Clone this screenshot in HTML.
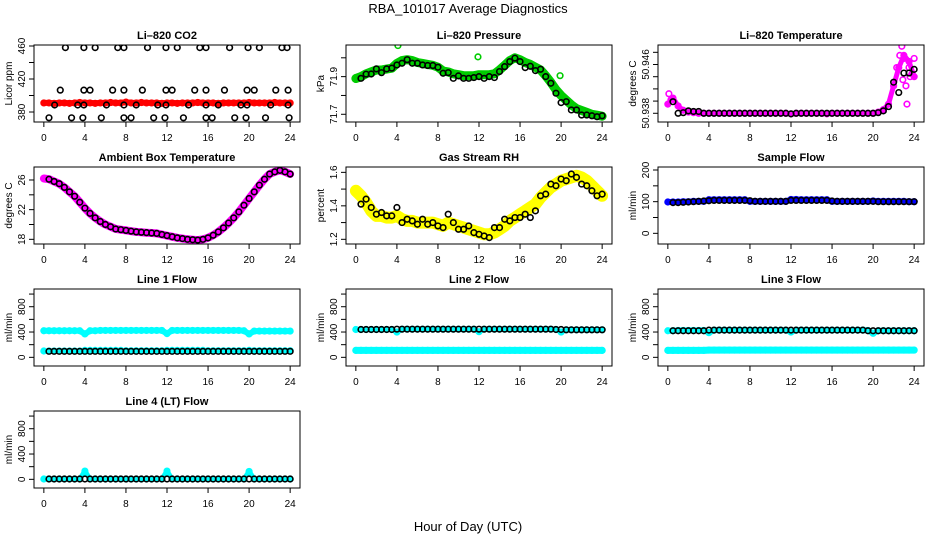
<!DOCTYPE html>
<html><head><meta charset="utf-8"><style>
html,body{margin:0;padding:0;background:#fff;}
svg{display:block;font-family:"Liberation Sans",sans-serif;}
</style></head><body>
<svg id="chart" width="936" height="540" viewBox="0 0 936 540" xmlns="http://www.w3.org/2000/svg">
<text x="468" y="13" text-anchor="middle" font-size="13">RBA_101017  Average Diagnostics</text>
<text x="468" y="531" text-anchor="middle" font-size="13">Hour of Day (UTC)</text>
</svg>
<script>
const hours=[0,0.5,1,1.5,2,2.5,3,3.5,4,4.5,5,5.5,6,6.5,7,7.5,8,8.5,9,9.5,10,10.5,11,11.5,12,12.5,13,13.5,14,14.5,15,15.5,16,16.5,17,17.5,18,18.5,19,19.5,20,20.5,21,21.5,22,22.5,23,23.5,24];
const xTicks=[0,4,8,12,16,20,24];

const co2Red=[391,391,390.5,391,391,390.5,391,391.5,391,391,390.5,391,391,391.5,391,391,392,391,391,391.5,391,391,391,390.5,391,391,390.5,391,391,391,391.5,391,391,391,390.5,391,391,391,391,391,391.5,391,391,391,391,391.5,391,391,391];
const co2BlackT=[2.1,3.9,5.0,7.2,7.8,10.1,11.9,13.0,15.2,15.8,18.1,19.9,21.0,23.2,23.7,1.6,3.9,4.5,6.7,7.8,9.6,11.9,12.5,14.7,15.8,17.6,19.8,20.5,22.6,23.8,1.05,3.3,3.9,6.1,7.8,9.0,11.1,11.9,14.1,15.8,17.0,19.2,19.8,22.1,23.8,0.5,2.7,3.8,5.6,7.8,8.5,10.7,11.8,13.6,15.8,16.4,18.6,19.7,21.6,23.9];
const co2BlackV=[458,458,458,458,458,458,458,458,458,458,458,458,458,458,458,406.5,406.5,406.5,406.5,406.5,406.5,406.5,406.5,406.5,406.5,406.5,406.5,406.5,406.5,406.5,388.5,388.5,388.5,388.5,388.5,388.5,388.5,388.5,388.5,388.5,388.5,388.5,388.5,388.5,388.5,373,373,373,373,373,373,373,373,373,373,373,373,373,373,373];

const presGreen=[71.89,71.90,71.915,71.925,71.935,71.935,71.94,71.945,71.97,71.985,71.99,71.985,71.975,71.97,71.965,71.96,71.95,71.93,71.925,71.915,71.91,71.905,71.905,71.905,71.91,71.91,71.91,71.915,71.935,71.96,71.985,72.0,71.99,71.975,71.965,71.95,71.935,71.905,71.87,71.83,71.80,71.775,71.75,71.73,71.72,71.71,71.70,71.695,71.69];
const presBlack=[null,71.891,71.913,71.914,71.941,71.921,71.941,71.945,71.962,71.971,71.990,71.971,71.971,71.962,71.959,71.959,71.950,71.918,71.921,71.891,71.904,71.891,71.891,71.895,71.900,71.891,71.900,71.895,71.927,71.953,71.980,71.998,71.980,71.948,71.955,71.932,71.939,71.900,71.865,71.812,71.762,71.767,71.723,71.723,71.696,71.696,71.692,71.687,71.692];
const presExtraT=[0,4.1,11.9,19.9];
const presExtraV=[71.895,72.065,72.005,71.905];

const tempPink=[50.9395,50.9405,50.9392,50.9385,50.9382,50.9381,50.938,50.938,50.938,50.938,50.938,50.938,50.938,50.938,50.938,50.938,50.938,50.938,50.938,50.938,50.938,50.938,50.938,50.938,50.9379,50.938,50.938,50.938,50.938,50.938,50.938,50.9379,50.938,50.938,50.938,50.938,50.938,50.938,50.938,50.938,50.938,50.9382,50.9386,50.9395,50.9425,50.9455,50.9475,50.9465,50.9440];
const tempBlack=[null,50.9399,50.9380,50.9381,50.9384,50.9383,50.9383,50.938,50.938,50.938,50.938,50.938,50.938,50.938,50.938,50.938,50.938,50.938,50.938,50.938,50.938,50.938,50.938,50.938,50.9379,50.938,50.938,50.938,50.938,50.938,50.938,50.938,50.938,50.938,50.938,50.938,50.938,50.938,50.938,50.938,50.938,50.9381,50.9384,50.9391,50.9431,50.9414,50.9446,50.9446,50.9452];
const tempExtraT=[0.1,0.3,22.3,22.6,22.8,23.0,23.2,23.5,23.8,24.0,22.9,23.3,23.6];
const tempExtraV=[50.9412,50.9402,50.9455,50.9475,50.9490,50.9470,50.9425,50.9455,50.9445,50.9470,50.9435,50.9395,50.9440];

const ambPink=[26.2,26.1,25.8,25.5,25.0,24.4,23.8,23.0,22.2,21.5,20.9,20.4,20.0,19.7,19.4,19.3,19.2,19.1,19.0,18.95,18.9,18.85,18.8,18.65,18.5,18.35,18.2,18.1,18.0,17.95,17.9,18.0,18.2,18.55,19.0,19.55,20.2,20.9,21.7,22.6,23.5,24.4,25.3,26.1,26.8,27.1,27.3,27.1,26.8];
const ambBlack=[null,26.1,25.8,25.5,25.0,24.4,23.8,23.0,22.2,21.5,20.9,20.4,20.0,19.7,19.4,19.3,19.2,19.1,19.0,18.95,18.9,18.85,18.8,18.65,18.5,18.35,18.2,18.1,18.0,17.95,17.9,18.0,18.2,18.55,19.0,19.55,20.2,20.9,21.7,22.6,23.5,24.4,25.3,26.1,26.8,27.1,27.3,27.1,26.8];

const rhYellow=[1.49,1.46,1.42,1.37,1.34,1.34,1.33,1.33,1.34,1.32,1.31,1.31,1.30,1.30,1.30,1.30,1.29,1.28,1.30,1.29,1.28,1.27,1.26,1.25,1.24,1.23,1.23,1.24,1.26,1.28,1.31,1.33,1.35,1.37,1.39,1.41,1.45,1.48,1.51,1.53,1.55,1.56,1.57,1.58,1.57,1.55,1.52,1.49,1.46];
const rhBlack=[null,1.41,1.44,1.39,1.35,1.36,1.34,1.34,1.39,1.30,1.32,1.31,1.29,1.32,1.29,1.30,1.28,1.27,1.35,1.30,1.26,1.26,1.28,1.24,1.23,1.22,1.21,1.27,1.27,1.32,1.31,1.33,1.33,1.35,1.33,1.37,1.46,1.47,1.53,1.52,1.56,1.55,1.59,1.57,1.53,1.52,1.49,1.46,1.47];

const sfBlue=[99,99,99,100,100,101,101,101,106,106,106,106,106,106,106,106,101,101,101,101,101,101,101,101,107,107,106,106,106,106,106,106,101,101,101,101,101,101,101,101,102,101,101,101,101,101,101,100,100];
const sfBlack=[null,97,97,98,99,100,101,102,103,104,104,104,104,104,104,104,103,101,101,101,101,101,101,101,104,104,104,104,104,104,104,104,102,101,101,101,101,101,101,101,101,100,100,100,100,100,100,100,100];

const l1CyanHi=[420,420,420,420,420,420,420,420,370,420,420,425,425,425,425,425,425,425,425,425,425,425,425,425,375,425,425,425,425,425,425,425,425,425,425,425,425,425,425,420,370,415,415,415,415,415,415,415,415];
const l1CyanLo=[100,100,100,100,100,100,100,100,110,110,110,110,110,110,110,110,105,105,105,105,105,105,105,105,110,110,110,110,110,110,110,110,105,105,105,105,105,105,105,105,110,105,105,105,105,105,105,105,105];
const l1Black=[null,95,95,95,95,95,95,95,95,95,95,95,95,95,95,95,95,95,95,95,95,95,95,95,95,95,95,95,95,95,95,95,95,95,95,95,95,95,95,95,95,95,95,95,95,95,95,95,95];

const l2CyanHi=[440,440,440,440,440,440,440,440,400,445,445,445,445,445,445,445,445,445,445,445,445,445,445,445,405,445,445,445,445,445,445,445,445,445,445,445,445,445,445,440,400,435,435,435,435,435,435,435,435];
const l2CyanLo=[110,110,110,110,110,110,110,110,110,110,110,110,110,110,110,110,110,110,110,110,110,110,110,110,110,110,110,110,110,110,110,110,110,110,110,110,110,110,110,110,110,110,110,110,110,110,110,110,110];
const l2Black=[null,440,440,440,440,440,440,440,445,445,445,445,445,445,445,445,445,445,445,445,445,445,445,445,445,445,445,445,445,445,445,445,445,445,445,445,445,445,445,440,440,435,435,435,435,435,435,435,435];

const l3CyanHi=[420,420,425,425,425,425,425,425,390,430,430,430,430,430,430,430,430,430,430,430,430,430,430,430,400,430,430,430,430,430,430,430,430,430,430,430,430,430,430,425,380,420,420,420,420,420,420,420,420];
const l3CyanLo=[110,110,110,110,110,110,110,110,115,115,115,115,115,115,115,115,115,115,115,115,115,115,115,115,115,115,115,115,115,115,115,115,115,115,115,115,115,115,115,115,115,115,115,115,115,115,115,115,115];
const l3Black=[null,420,420,420,420,420,420,420,430,430,430,430,430,430,430,430,430,430,430,430,430,430,430,430,430,430,430,430,430,430,430,430,430,430,430,430,430,430,430,420,420,420,420,420,420,420,420,420,420];

const l4Cyan=[5,5,5,5,5,5,5,5,130,5,5,5,5,5,5,5,5,5,5,5,5,5,5,5,130,5,5,5,5,5,5,5,5,5,5,5,5,5,5,5,125,5,5,5,5,5,5,5,5];
const l4Black=[null,5,5,5,5,5,5,5,5,5,5,5,5,5,5,5,5,5,5,5,5,5,5,5,5,5,5,5,5,5,5,5,5,5,5,5,5,5,5,5,5,5,5,5,5,5,5,5,5];

const flowTicks=[0,200,400,600,800,1000];
const flowLabels=['0','','400','','800',''];

const NS='http://www.w3.org/2000/svg';
const svg=document.getElementById('chart');
function mk(tag,attrs,parent){const e=document.createElementNS(NS,tag);for(const k in attrs)e.setAttribute(k,attrs[k]);(parent||svg).appendChild(e);return e;}

function panel(p){
  const x0=34+312*p.col,x1=300+312*p.col,y0=45+122*p.row,y1=122+122*p.row;
  const sx=t=>x0+(t+0.96)/25.92*(x1-x0);
  const sy=v=>y1-(v-p.ylim[0])/(p.ylim[1]-p.ylim[0])*(y1-y0);
  const g=mk('g',{});
  
  
  const t=mk('text',{x:(x0+x1)/2,y:y0-6,'text-anchor':'middle','font-size':11,'font-weight':'bold'},g);
  
  
  t.textContent=p.title;
  const clip=mk('clipPath',{id:'c'+p.name},g);
  mk('rect',{x:x0,y:y0,width:x1-x0,height:y1-y0},clip);
  const plot=mk('g',{'clip-path':'url(#c'+p.name+')'},g);
  
  
  (p.bands||[]).forEach(b=>{
    const pts=[];b.v.forEach((v,i)=>{if(v!=null)pts.push(sx(hours[i]).toFixed(1)+','+sy(v).toFixed(1));});
    const pl=mk('polyline',{points:pts.join(' '),fill:'none',stroke:b.color,'stroke-width':b.w,'stroke-linejoin':'round','stroke-linecap':'round'},plot);
    
    
    b.v.forEach((v,i)=>{if(v==null)return;
      const c=mk('circle',{cx:sx(hours[i]),cy:sy(v),r:2.8,fill:'none',stroke:b.color,'stroke-width':1.6},plot);
      
      });
  });
  (p.scatter||[]).forEach(s=>{
    s.t.forEach((tt,i)=>{const v=s.v[i];if(v==null)return;
      const c=mk('circle',{cx:sx(tt),cy:sy(v),r:2.8,fill:'none',stroke:s.color,'stroke-width':1.6},plot);
      
      });
  });
  (p.black||[]).forEach(arr=>{
    arr.forEach((v,i)=>{if(v==null)return;
      const c=mk('circle',{cx:sx(hours[i]),cy:sy(v),r:2.8,fill:'none',stroke:'#000','stroke-width':1.6},plot);
      
      });
  });
  const box=mk('rect',{x:x0,y:y0,width:x1-x0,height:y1-y0,fill:'none',stroke:'#000','stroke-width':1},g);
  
  
  const xa=mk('g',{},g);
  
  
  xTicks.forEach(tk=>{
    mk('line',{x1:sx(tk),x2:sx(tk),y1:y1,y2:y1+5,stroke:'#000'},xa);
    const l=mk('text',{x:sx(tk),y:y1+19,'text-anchor':'middle','font-size':10},xa);
    
    
    l.textContent=tk;
  });
  const ya=mk('g',{},g);
  
  
  p.yticks.forEach((tk,i)=>{
    const y=sy(tk);
    mk('line',{x1:x0-5,x2:x0,y1:y,y2:y,stroke:'#000'},ya);
    if(p.ylabels[i]){
      const l=mk('text',{x:x0-9,y:y,'text-anchor':'middle','font-size':10,transform:'rotate(-90 '+(x0-9)+' '+y+')'},ya);
      
      
      l.textContent=p.ylabels[i];
    }
  });
  const yl=mk('text',{x:x0-22,y:(y0+y1)/2,'text-anchor':'middle','font-size':10,transform:'rotate(-90 '+(x0-22)+' '+((y0+y1)/2)+')'},g);
  
  
  yl.textContent=p.ylab;
}

panel({name:'co2',title:'Li\u2013820 CO2',row:0,col:0,ylim:[367.9,461.2],yticks:[380,400,420,440,460],ylabels:['380','','420','','460'],ylab:'Licor ppm',
  bands:[{v:co2Red,color:'#ff0000',w:6,label:'co2'}],scatter:[{t:co2BlackT,v:co2BlackV,color:'#000',label:'hourly'}]});
panel({name:'pressure',title:'Li\u2013820 Pressure',row:0,col:1,ylim:[71.659,72.068],yticks:[71.7,71.8,71.9,72.0],ylabels:['71.7','','71.9',''],ylab:'kPa',
  bands:[{v:presGreen,color:'#00cc00',w:9,label:'pressure'}],scatter:[{t:presExtraT,v:presExtraV,color:'#00cc00',label:'pressure-outlier'}],black:[presBlack]});
panel({name:'li820-temp',title:'Li\u2013820 Temperature',row:0,col:2,ylim:[50.93657,50.9492],yticks:[50.938,50.94,50.942,50.944,50.946,50.948],ylabels:['50.938','','','','50.946',''],ylab:'degrees C',
  bands:[{v:tempPink,color:'#ff00ff',w:5,label:'temperature'}],scatter:[{t:tempExtraT,v:tempExtraV,color:'#ff00ff',label:'temperature-scatter'}],black:[tempBlack]});
panel({name:'ambient-temp',title:'Ambient Box Temperature',row:1,col:0,ylim:[17.37,27.75],yticks:[18,20,22,24,26],ylabels:['18','','22','','26'],ylab:'degrees C',
  bands:[{v:ambPink,color:'#ff00ff',w:8,label:'ambient'}],black:[ambBlack]});
panel({name:'gas-rh',title:'Gas Stream RH',row:1,col:1,ylim:[1.172,1.632],yticks:[1.2,1.3,1.4,1.5,1.6],ylabels:['1.2','','1.4','','1.6'],ylab:'percent',
  bands:[{v:rhYellow,color:'#ffff00',w:12,label:'rh'}],black:[rhBlack]});
panel({name:'sample-flow',title:'Sample Flow',row:1,col:2,ylim:[-33.7,209.5],yticks:[0,50,100,150,200],ylabels:['0','','100','','200'],ylab:'ml/min',
  bands:[{v:sfBlue,color:'#0000ff',w:6,label:'sample-flow'}],black:[sfBlack]});
panel({name:'line1',title:'Line 1 Flow',row:2,col:0,ylim:[-137,1080],yticks:flowTicks,ylabels:flowLabels,ylab:'ml/min',
  bands:[{v:l1CyanHi,color:'#00ffff',w:6,label:'line1-high'},{v:l1CyanLo,color:'#00ffff',w:5,label:'line1-low'}],black:[l1Black]});
panel({name:'line2',title:'Line 2 Flow',row:2,col:1,ylim:[-137,1080],yticks:flowTicks,ylabels:flowLabels,ylab:'ml/min',
  bands:[{v:l2CyanHi,color:'#00ffff',w:5,label:'line2-high'},{v:l2CyanLo,color:'#00ffff',w:7,label:'line2-low'}],black:[l2Black]});
panel({name:'line3',title:'Line 3 Flow',row:2,col:2,ylim:[-137,1080],yticks:flowTicks,ylabels:flowLabels,ylab:'ml/min',
  bands:[{v:l3CyanHi,color:'#00ffff',w:6,label:'line3-high'},{v:l3CyanLo,color:'#00ffff',w:7,label:'line3-low'}],black:[l3Black]});
panel({name:'line4',title:'Line 4 (LT) Flow',row:3,col:0,ylim:[-137,1080],yticks:flowTicks,ylabels:flowLabels,ylab:'ml/min',
  bands:[{v:l4Cyan,color:'#00ffff',w:5,label:'line4'}],black:[l4Black]});
</script>
</body></html>
